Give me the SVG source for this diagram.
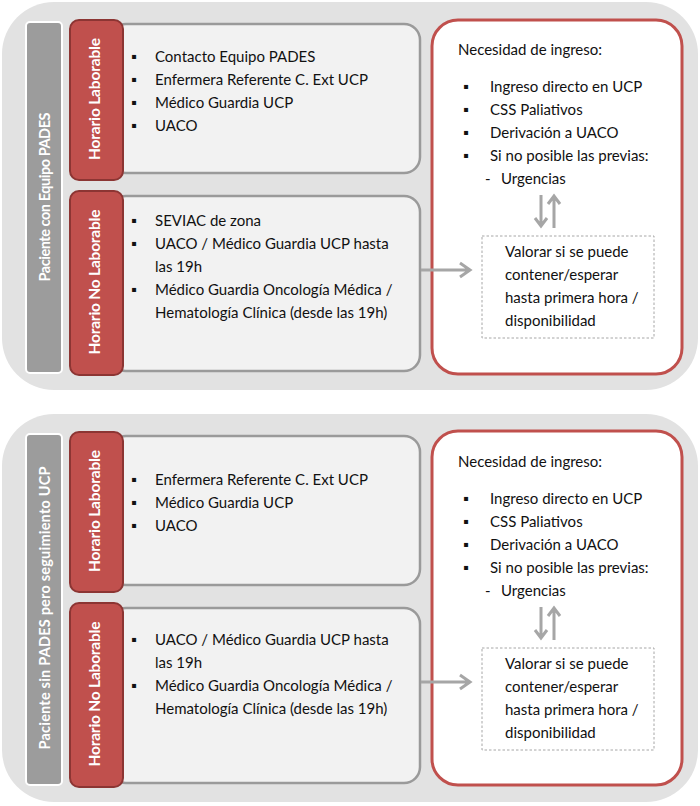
<svg xmlns="http://www.w3.org/2000/svg" width="700" height="806" viewBox="0 0 700 806">
<style>
text{font-family:Lato,"Open Sans","Liberation Sans",sans-serif;font-size:15px;fill:#111}
.panel{fill:#e2e2e2}
.side{fill:#9c9c9c;stroke:#fff;stroke-width:2}
.sidet{fill:#fff;font-weight:bold;font-size:14.5px}
.tab{fill:#c0504d;stroke:#8c3533;stroke-width:2}
.tabt{fill:#fff;font-weight:bold;font-size:15.5px}
.box{fill:#f2f2f2;stroke:#9a9a9a;stroke-width:2.5}
.red{fill:#fff;stroke:#c0504d;stroke-width:3}
.dash{fill:#fff;stroke:#a6a6a6;stroke-width:1;stroke-dasharray:2.5 2}
.con{fill:none;stroke:#a6a6a6;stroke-width:3}
</style>

<g id="panel1">
  <rect class="panel" x="2" y="2" width="696" height="388" rx="52"/>
  <g id="side1">
    <rect class="side" x="26" y="22" width="36" height="351" rx="4"/>
    <text class="sidet" transform="translate(50,197) rotate(-90)" text-anchor="middle" textLength="169">Paciente con Equipo PADES</text>
  </g>
  <g id="box1a">
    <rect class="box" x="110" y="24" width="310" height="149" rx="16"/>
    <text x="131" y="62">▪</text><text x="155" y="62">Contacto Equipo PADES</text>
    <text x="131" y="85">▪</text><text x="155" y="85">Enfermera Referente C. Ext UCP</text>
    <text x="131" y="108">▪</text><text x="155" y="108">Médico Guardia UCP</text>
    <text x="131" y="131">▪</text><text x="155" y="131">UACO</text>
  </g>
  <g id="tab1a">
    <rect class="tab" x="70" y="20" width="53" height="160" rx="9"/>
    <text class="tabt" transform="translate(100,99) rotate(-90)" text-anchor="middle" textLength="122">Horario Laborable</text>
  </g>
  <g id="box1b">
    <rect class="box" x="110" y="196" width="310" height="175" rx="16"/>
    <text x="131" y="226">▪</text><text x="155" y="226">SEVIAC de zona</text>
    <text x="131" y="249">▪</text><text x="155" y="249">UACO / Médico Guardia UCP hasta</text>
    <text x="155" y="272">las 19h</text>
    <text x="131" y="295">▪</text><text x="155" y="295">Médico Guardia Oncología Médica /</text>
    <text x="155" y="318">Hematología Clínica (desde las 19h)</text>
  </g>
  <g id="tab1b">
    <rect class="tab" x="70" y="191" width="53" height="184" rx="9"/>
    <text class="tabt" transform="translate(100,282) rotate(-90)" text-anchor="middle" textLength="145">Horario No Laborable</text>
  </g>
  <g id="red1">
    <rect class="red" x="432" y="20" width="250" height="354" rx="26"/>
    <text x="458" y="55">Necesidad de ingreso:</text>
    <text x="463" y="92">▪</text><text x="490" y="92">Ingreso directo en UCP</text>
    <text x="463" y="115">▪</text><text x="490" y="115">CSS Paliativos</text>
    <text x="463" y="138">▪</text><text x="490" y="138">Derivación a UACO</text>
    <text x="463" y="161">▪</text><text x="490" y="161">Si no posible las previas:</text>
    <text x="485" y="184">-</text><text x="501" y="184">Urgencias</text>
  </g>
  <g id="dash1">
    <rect class="dash" x="482" y="236" width="172" height="102"/>
    <text x="505" y="257">Valorar si se puede</text>
    <text x="505" y="280">contener/esperar</text>
    <text x="505" y="303">hasta primera hora /</text>
    <text x="505" y="326">disponibilidad</text>
  </g>
  <g id="connectors1">
    <path class="con" d="M541,195 V226 M535,218 L541,226 L547,218"/>
    <path class="con" d="M554,228 V196 M548,204 L554,196 L560,204"/>
    <path class="con" d="M421,270 H470 M460,263 L470,270 L460,277"/>
  </g>
</g>

<g id="panel2">
  <rect class="panel" x="2" y="414" width="696" height="388" rx="52"/>
  <g id="side2">
    <rect class="side" x="26" y="434" width="36" height="351" rx="4"/>
    <text class="sidet" transform="translate(50,608) rotate(-90)" text-anchor="middle" textLength="283">Paciente sin PADES pero seguimiento UCP</text>
  </g>
  <g id="box2a">
    <rect class="box" x="110" y="436" width="310" height="149" rx="16"/>
    <text x="131" y="485">▪</text><text x="155" y="485">Enfermera Referente C. Ext UCP</text>
    <text x="131" y="508">▪</text><text x="155" y="508">Médico Guardia UCP</text>
    <text x="131" y="531">▪</text><text x="155" y="531">UACO</text>
  </g>
  <g id="tab2a">
    <rect class="tab" x="70" y="432" width="53" height="160" rx="9"/>
    <text class="tabt" transform="translate(100,511) rotate(-90)" text-anchor="middle" textLength="122">Horario Laborable</text>
  </g>
  <g id="box2b">
    <rect class="box" x="110" y="608" width="310" height="175" rx="16"/>
    <text x="131" y="645">▪</text><text x="155" y="645">UACO / Médico Guardia UCP hasta</text>
    <text x="155" y="668">las 19h</text>
    <text x="131" y="691">▪</text><text x="155" y="691">Médico Guardia Oncología Médica /</text>
    <text x="155" y="714">Hematología Clínica (desde las 19h)</text>
  </g>
  <g id="tab2b">
    <rect class="tab" x="70" y="603" width="53" height="184" rx="9"/>
    <text class="tabt" transform="translate(100,694) rotate(-90)" text-anchor="middle" textLength="145">Horario No Laborable</text>
  </g>
  <g id="red2">
    <rect class="red" x="432" y="431" width="250" height="354" rx="26"/>
    <text x="458" y="467">Necesidad de ingreso:</text>
    <text x="463" y="504">▪</text><text x="490" y="504">Ingreso directo en UCP</text>
    <text x="463" y="527">▪</text><text x="490" y="527">CSS Paliativos</text>
    <text x="463" y="550">▪</text><text x="490" y="550">Derivación a UACO</text>
    <text x="463" y="573">▪</text><text x="490" y="573">Si no posible las previas:</text>
    <text x="485" y="596">-</text><text x="501" y="596">Urgencias</text>
  </g>
  <g id="dash2">
    <rect class="dash" x="482" y="648" width="172" height="102"/>
    <text x="505" y="669">Valorar si se puede</text>
    <text x="505" y="692">contener/esperar</text>
    <text x="505" y="715">hasta primera hora /</text>
    <text x="505" y="738">disponibilidad</text>
  </g>
  <g id="connectors2">
    <path class="con" d="M541,607 V638 M535,630 L541,638 L547,630"/>
    <path class="con" d="M554,640 V608 M548,616 L554,608 L560,616"/>
    <path class="con" d="M421,682 H470 M460,675 L470,682 L460,689"/>
  </g>
</g>
</svg>
